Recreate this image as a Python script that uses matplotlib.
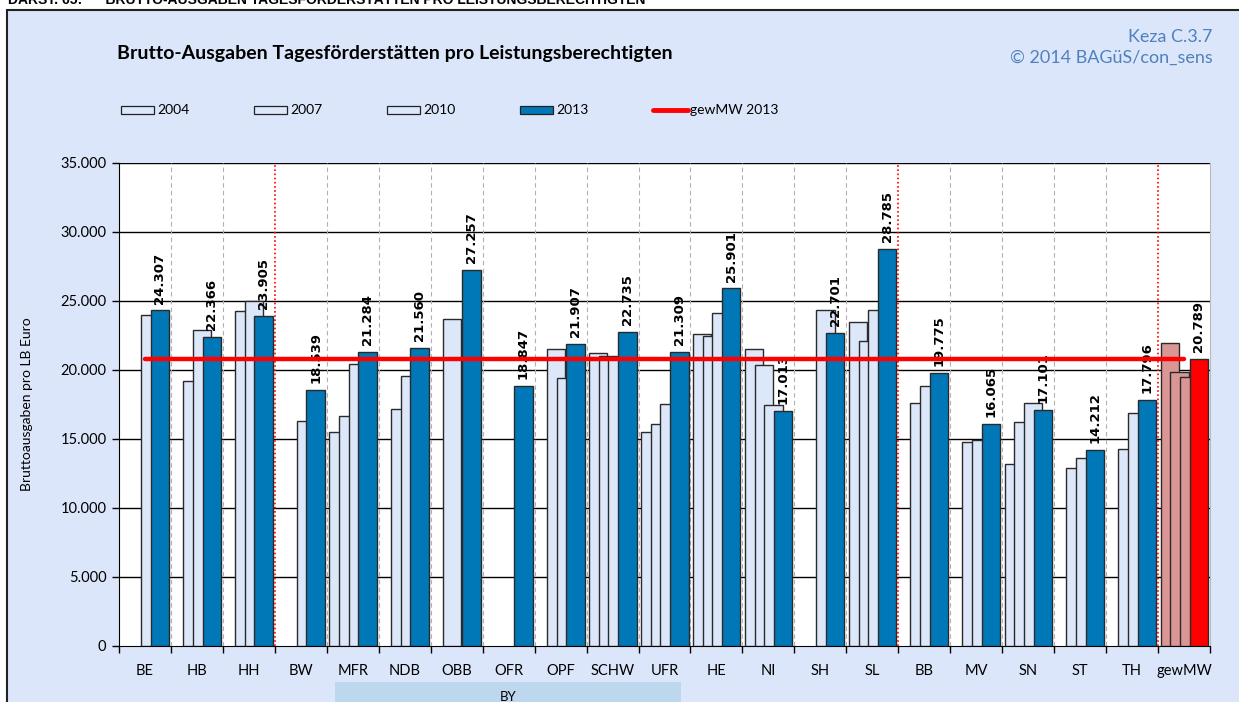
import numpy as np
import matplotlib
matplotlib.use('Agg')
import matplotlib.pyplot as plt
from matplotlib.patches import Rectangle
from matplotlib.lines import Line2D
from matplotlib.ticker import FuncFormatter, MultipleLocator

# values (0 = no bar)
categories = ['BE', 'HB', 'HH', 'BW', 'MFR', 'NDB', 'OBB', 'OFR', 'OPF', 'SCHW', 'UFR',
              'HE', 'NI', 'SH', 'SL', 'BB', 'MV', 'SN', 'ST', 'TH', 'gewMW']
v2004 = [0, 0, 0, 0, 15460, 0, 0, 0, 0, 21200, 15460,
         22590, 21480, 0, 23440, 0, 0, 13170, 0, 0, 21960]
v2007 = [0, 19200, 24300, 0, 16650, 17130, 23720, 0, 21480, 21000, 16110,
         22490, 20340, 0, 22100, 17610, 14780, 16190, 12900, 14230, 19860]
v2010 = [24010, 22880, 24980, 16280, 20410, 19590, 0, 0, 19380, 20950, 17510,
         24110, 17420, 24330, 24330, 18840, 14910, 17610, 13580, 16890, 19490]
v2013 = [24307, 22366, 23905, 18539, 21284, 21560, 27257, 18847, 21907, 22735, 21309,
         25901, 17013, 22701, 28785, 19775, 16065, 17101, 14212, 17796, 20789]
years = ['2004', '2007', '2010', '2013']
gew_mw_2013 = 20789
red_dividers = [3, 15, 20]

plt.rcParams['font.family'] = ['Lato', 'DejaVu Sans']

BG = '#DCE6FA'
LIGHT = '#DDE7FA'
BLUE = '#0078B8'
PINK = '#D99694'
RED = '#FF0000'


def de_fmt(v, pos=None):
    return f'{int(round(v)):,}'.replace(',', '.')


fig = plt.figure(figsize=(12.39, 7.02), dpi=100)
fig.patches.append(Rectangle((7 / 1239, -0.01), 1.0, 1 - 10 / 702 + 0.01,
                             transform=fig.transFigure, facecolor=BG,
                             edgecolor='#222222', linewidth=1.5, zorder=-2))
fig.text(8 / 1239, 1 - 7 / 702,
         'DARST. 65:      BRUTTO-AUSGABEN TAGESFÖRDERSTÄTTEN PRO LEISTUNGSBERECHTIGTEN',
         family='Liberation Sans', fontweight='bold', fontsize=10, va='bottom')

ax = fig.add_axes([119 / 1239, 1 - 645.7 / 702, (1210 - 119) / 1239, (645.7 - 163) / 702])
ax.set_facecolor('white')

n = len(categories)
x = np.arange(n)
offset0, step, width = 0.048, 0.1867, 0.354
series = [v2004, v2007, v2010, v2013]
for j, vals in enumerate(series):
    for i, v in enumerate(vals):
        if v <= 0:
            continue
        if j == 3:
            fc = RED if categories[i] == 'gewMW' else BLUE
        else:
            fc = PINK if categories[i] == 'gewMW' else LIGHT
        ax.bar(x[i] + offset0 + j * step, v, width=width, align='edge',
               color=fc, edgecolor='#2a2a2a', linewidth=1.0, zorder=3 + j)

for i, v in enumerate(v2013):
    ax.text(x[i] + offset0 + 3 * step + width / 2, v + 500, de_fmt(v),
            rotation=90, ha='center', va='bottom', fontsize=9.5,
            fontweight='bold', family='DejaVu Sans', zorder=8)

ax.plot([0.5, n - 0.5], [gew_mw_2013, gew_mw_2013], color=RED, linewidth=3.2,
        solid_capstyle='round', zorder=9)

# grid
for yv in range(5000, 35001, 5000):
    ax.axhline(yv, color='black', linewidth=1.0, zorder=1)
for b in range(1, n):
    if b in red_dividers:
        ax.axvline(b, color=RED, linewidth=1.2, linestyle=(0, (1, 1.5)), zorder=7)
    else:
        ax.axvline(b, color='#b0b0b0', linewidth=0.8, linestyle=(0, (4, 3)), zorder=1)

ax.set_xlim(0, n)
ax.set_ylim(0, 35000)
ax.yaxis.set_major_locator(MultipleLocator(5000))
ax.yaxis.set_major_formatter(FuncFormatter(de_fmt))
ax.set_xticks(x + 0.5)
ax.set_xticklabels(categories)
ax.set_xticks(np.arange(0, n + 1), minor=True)
ax.tick_params(axis='x', which='major', length=0, pad=13, labelsize=10.5)
ax.tick_params(axis='x', which='minor', length=5, width=1, direction='out')
ax.tick_params(axis='y', length=5, width=1, direction='out', labelsize=10.5, pad=4)
ax.spines['top'].set_visible(False)
ax.spines['right'].set_color('#bbbbbb')
ax.spines['left'].set_color('black')
ax.spines['bottom'].set_color('black')
ax.set_ylabel('Bruttoausgaben pro LB Euro', fontsize=10, labelpad=20)

# BY group label
fig.patches.append(Rectangle((335 / 1239, 0), (681 - 335) / 1239, 20 / 702,
                             transform=fig.transFigure, facecolor='#BDD7EE',
                             edgecolor='none', zorder=-1))
fig.text(508 / 1239, 1 - 697 / 702, 'BY', ha='center', va='center', fontsize=9.5)

# titles
fig.text(117 / 1239, 1 - 53 / 702,
         'Brutto-Ausgaben Tagesförderstätten pro Leistungsberechtigten',
         fontsize=14, fontweight='bold', va='center')
fig.text(1213 / 1239, 1 - 37 / 702, 'Keza C.3.7', fontsize=13,
         color='#4F81BD', ha='right', va='center')
fig.text(1213 / 1239, 1 - 58 / 702, '© 2014 BAGüS/con_sens', fontsize=13,
         color='#4F81BD', ha='right', va='center')

# legend drawn by hand to match the spaced-out row
legend_y = 1 - 110 / 702
box_h = 8 / 702
for lx, lab in zip([121, 254, 387, 520], years):
    fc = BLUE if lab == '2013' else LIGHT
    fig.patches.append(Rectangle((lx / 1239, legend_y - box_h / 2), 33 / 1239, box_h,
                                 transform=fig.transFigure, facecolor=fc,
                                 edgecolor='#222222', linewidth=0.9, zorder=-1))
    fig.text((lx + 36) / 1239, legend_y, lab, fontsize=10, va='center')
fig.lines.append(Line2D([653 / 1239, 688 / 1239], [legend_y, legend_y],
                        transform=fig.transFigure, color=RED, linewidth=3.5,
                        solid_capstyle='round'))
fig.text(690 / 1239, legend_y, 'gewMW 2013', fontsize=10, va='center')

fig.savefig('out.png', dpi=100)
